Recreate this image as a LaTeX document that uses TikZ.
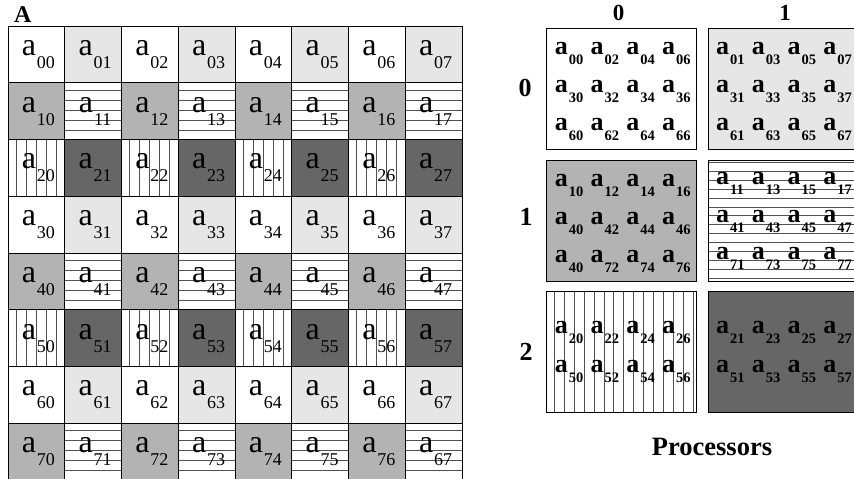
\documentclass[tikz,border=0pt]{standalone}
\usepackage{fontspec}
\setmainfont{Liberation Serif}
\definecolor{lightg}{HTML}{E6E6E6}
\definecolor{midg}{HTML}{B3B3B3}
\definecolor{darkg}{HTML}{666666}
\definecolor{hatchg}{HTML}{505050}
\newcommand\gsub[1]{{\fontsize{32}{32}\selectfont a}\kern1pt\raisebox{-13pt}{\fontsize{18}{18}\selectfont #1}}
\newcommand\bsub[1]{{\bfseries\fontsize{26}{26}\selectfont a}\kern1pt\raisebox{-10pt}{\bfseries\fontsize{14.5}{14.5}\selectfont #1}}
\newcommand\prow[4]{\foreach \lab [count=\j from 0] in {#4}{\node[item] (#1c\j) at ({#2+8+35.7*\j},{#3}) {\bsub{\lab}};}}
\tikzset{
  hatch/.style={draw=hatchg, line width=0.9pt},
  border/.style={draw=black, line width=1pt},
  item/.style={anchor=base west, inner sep=0pt},
  hdr/.style={font=\bfseries\fontsize{23}{23}\selectfont, inner sep=0pt, anchor=base},
  rowlab/.style={font=\bfseries\fontsize{26}{26}\selectfont, inner sep=0pt}
}
\begin{document}
\begin{tikzpicture}[x=1pt,y=-1pt]
\useasboundingbox (0,0) rectangle (854,479);
\def\s{56.75}
% ---- left grid: fills and hatching
\foreach \r in {0,...,7}{
  \foreach \c in {0,...,7}{
    \pgfmathtruncatemacro\rm{mod(\r,3)}
    \pgfmathtruncatemacro\cm{mod(\c,2)}
    \ifnum\rm=0
      \ifnum\cm=1 \fill[lightg] ({8+\c*\s},{26+\r*\s}) rectangle ++(\s,\s); \fi
    \fi
    \ifnum\rm=1
      \ifnum\cm=0 \fill[midg] ({8+\c*\s},{26+\r*\s}) rectangle ++(\s,\s);
      \else
        \foreach \k in {0,...,4}{\draw[hatch] ({8+\c*\s},{26+\r*\s+7.5+10*\k}) -- ++(\s,0);}
      \fi
    \fi
    \ifnum\rm=2
      \ifnum\cm=1 \fill[darkg] ({8+\c*\s},{26+\r*\s}) rectangle ++(\s,\s);
      \else
        \foreach \k in {0,...,4}{\draw[hatch] ({8+\c*\s+8+10*\k},{26+\r*\s}) -- ++(0,\s);}
      \fi
    \fi
  }
}
% grid lines
\foreach \i in {0,...,8}{
  \draw[border] ({8+\i*\s},26) -- ({8+\i*\s},{26+8*\s});
  \draw[border] (8,{26+\i*\s}) -- ({8+8*\s},{26+\i*\s});
}
% grid labels
\foreach \r in {0,...,7}{
  \foreach \c in {0,...,7}{
    \def\lab{\r\c}
    \ifnum\r=7 \ifnum\c=7 \def\lab{67}\fi\fi
    \node[inner sep=0pt] (g\r\c) at ({8+(\c+0.5)*\s+2},{26+(\r+0.5)*\s}) {\gsub{\lab}};
  }
}
\node[font=\bfseries\fontsize{24}{24}\selectfont, inner sep=0pt, anchor=base west] (A) at (14,22.5) {A};

% ---- right: processors
\def\La{546.7}\def\Lb{708}
\def\Ta{28.3}\def\Tb{160}\def\Tc{291}
\def\W{150}\def\H{121}
% block fills
\filldraw[fill=white, border] (\La,\Ta) rectangle ++(\W,\H);
\filldraw[fill=lightg, border] (\Lb,\Ta) rectangle ++(\W,\H);
\filldraw[fill=midg, border] (\La,\Tb) rectangle ++(\W,\H);
\fill[white] (\Lb,\Tb) rectangle ++(\W,\H);
\foreach \k in {0,...,13}{\draw[hatch] (\Lb,{\Tb+2.5+8.9*\k}) -- ++(\W,0);}
\draw[border] (\Lb,\Tb) rectangle ++(\W,\H);
\fill[white] (\La,\Tc) rectangle ++(\W,\H);
\foreach \k in {0,...,14}{\draw[hatch] ({\La+7.6+9.93*\k},\Tc) -- ++(0,\H);}
\draw[border] (\La,\Tc) rectangle ++(\W,\H);
\filldraw[fill=darkg, border] (\Lb,\Tc) rectangle ++(\W,\H);
% block items
\prow{p00r0}{\La}{\Ta+26.5}{00,02,04,06}
\prow{p00r1}{\La}{\Ta+64.5}{30,32,34,36}
\prow{p00r2}{\La}{\Ta+102.5}{60,62,64,66}
\prow{p01r0}{\Lb}{\Ta+26.5}{01,03,05,07}
\prow{p01r1}{\Lb}{\Ta+64.5}{31,33,35,37}
\prow{p01r2}{\Lb}{\Ta+102.5}{61,63,65,67}
\prow{p10r0}{\La}{\Tb+26}{10,12,14,16}
\prow{p10r1}{\La}{\Tb+64}{40,42,44,46}
\prow{p10r2}{\La}{\Tb+102}{40,72,74,76}
\prow{p11r0}{\Lb}{\Tb+24}{11,13,15,17}
\prow{p11r1}{\Lb}{\Tb+62}{41,43,45,47}
\prow{p11r2}{\Lb}{\Tb+99}{71,73,75,77}
\prow{p20r0}{\La}{\Tc+42}{20,22,24,26}
\prow{p20r1}{\La}{\Tc+81}{50,52,54,56}
\prow{p21r0}{\Lb}{\Tc+42}{21,23,25,27}
\prow{p21r1}{\Lb}{\Tc+81}{51,53,55,57}
% headers
\node[hdr] (h0) at (618.5,20.7) {0};
\node[hdr] (h1) at (785,20.7) {1};
\node[rowlab] (r0) at (525,88) {0};
\node[rowlab] (r1) at (526,217) {1};
\node[rowlab] (r2) at (526,352) {2};
\node[font=\bfseries\fontsize{26.5}{26.5}\selectfont, inner sep=0pt, anchor=base] (proc) at (712,455) {Processors};
\end{tikzpicture}
\end{document}
